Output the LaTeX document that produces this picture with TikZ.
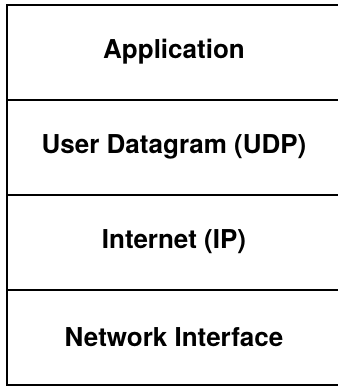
\documentclass[tikz,border=0pt]{standalone}
\usepackage{fontspec}
\setsansfont{TeX Gyre Heros}
\usetikzlibrary{positioning}
\tikzset{
  layer/.style={draw, line width=1pt, minimum width=166.5pt, minimum height=47.5pt,
    outer sep=0pt, inner sep=0pt, font=\sffamily\bfseries\fontsize{13}{15}\selectfont}
}
\begin{document}
\begin{tikzpicture}[x=0.5pt,y=-0.5pt]
  \useasboundingbox (0,0) rectangle (338,387);
  \clip (0,0) rectangle (338,387);
  \node[layer] (app) at (174,52) {Application};
  \node[layer, below=0pt of app] (udp) {User Datagram (UDP)};
  \node[layer, below=0pt of udp] (ip) {Internet (IP)};
  \node[layer, below=0pt of ip] (net) {Network Interface};
\end{tikzpicture}
\end{document}
